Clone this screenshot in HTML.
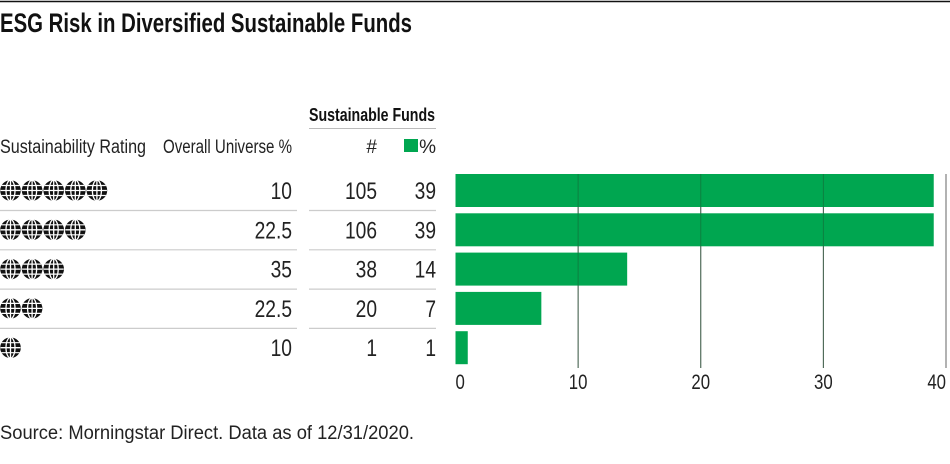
<!DOCTYPE html>
<html><head><meta charset="utf-8"><style>
html,body{margin:0;padding:0;background:#fff;}
svg{display:block;font-family:"Liberation Sans Narrow","Liberation Sans",sans-serif;}
</style></head><body>
<svg id="chart" width="950" height="464" viewBox="0 0 950 464" xmlns="http://www.w3.org/2000/svg">
<defs>
<g id="globe">
<circle cx="0" cy="0" r="10.3" fill="#111"/>
<ellipse cx="0" cy="0" rx="4.5" ry="10.3" fill="none" stroke="#fff" stroke-width="1.3"/>
<line x1="0" y1="-10" x2="0" y2="10" stroke="#fff" stroke-width="1.3"/>
<line x1="-10" y1="0" x2="10" y2="0" stroke="#fff" stroke-width="1.3"/>
<line x1="-9" y1="-5" x2="9" y2="-5" stroke="#fff" stroke-width="1.2"/>
<line x1="-9" y1="5" x2="9" y2="5" stroke="#fff" stroke-width="1.2"/>
</g>
</defs>
<line x1="0" y1="1.5" x2="950" y2="1.5" stroke="#111" stroke-width="1.5"/>
<text x="0" y="32" font-size="27" font-weight="bold" fill="#111" textLength="412" lengthAdjust="spacingAndGlyphs">ESG Risk in Diversified Sustainable Funds</text>
<text x="309" y="121" font-size="18" font-weight="bold" fill="#111" textLength="126" lengthAdjust="spacingAndGlyphs">Sustainable Funds</text>
<line x1="309" y1="128.5" x2="436" y2="128.5" stroke="#bbb" stroke-width="1"/>
<text x="0" y="153" font-size="19" fill="#222" textLength="146" lengthAdjust="spacingAndGlyphs">Sustainability Rating</text>
<text x="163" y="153" font-size="19" fill="#222" textLength="129" lengthAdjust="spacingAndGlyphs">Overall Universe %</text>
<text x="377" y="153" font-size="19" fill="#222" text-anchor="end">#</text>
<rect x="404" y="139" width="14" height="13" fill="#00a650"/>
<text x="436" y="153" font-size="19" fill="#222" text-anchor="end">%</text>
<g id="table"></g>
<g id="grid"></g>
<g id="bars"></g>
<g id="ticks"></g>
<text x="0" y="439" font-size="19" fill="#222" textLength="414" lengthAdjust="spacingAndGlyphs">Source: Morningstar Direct. Data as of 12/31/2020.</text>
</svg>
<script>
const globes = [5, 4, 3, 2, 1];
const universePct = ["10", "22.5", "35", "22.5", "10"];
const fundCounts = [105, 106, 38, 20, 1];
const fundPct = [39, 39, 14, 7, 1];
const tickValues = [0, 10, 20, 30, 40];

const NS = "http://www.w3.org/2000/svg";
const x0 = 455.5, xScale = (946 - 455.5) / 40;
const xPos = v => x0 + v * xScale;
const rowTop = i => 174 + i * 39.3;
const barH = 33;
const SX = 0.8;

function mk(tag, attrs, parent) {
  const e = document.createElementNS(NS, tag);
  for (const k in attrs) e.setAttribute(k, attrs[k]);
  parent.appendChild(e);
  return e;
}
function ntext(parent, x, y, size, anchor, str) {
  const g = mk('g', {transform: 'scale(' + SX + ',1)'}, parent);
  const t = mk('text', {x: x / SX, y: y, 'font-size': size, fill: '#222', 'text-anchor': anchor}, g);
  t.textContent = str;
  return t;
}
const table = document.getElementById('table');
const grid = document.getElementById('grid');
const bars = document.getElementById('bars');
const ticks = document.getElementById('ticks');

globes.forEach((n, i) => {
  const cy = rowTop(i) + barH / 2;
  const g = mk('g', {}, table);
  
  
  for (let k = 0; k < n; k++) {
    mk('use', {href: '#globe', x: 10.5 + k * 21.6, y: cy}, g);
  }
  const t1 = ntext(table, 292, cy + 8.5, 24, 'end', universePct[i]);
  
  
  const t2 = ntext(table, 377, cy + 8.5, 24, 'end', String(fundCounts[i]));
  
  
  const t3 = ntext(table, 436, cy + 8.5, 24, 'end', String(fundPct[i]));
  
  
  if (i < globes.length - 1) {
    const ly = rowTop(i) + barH + 3.5;
    const l1 = mk('line', {x1: 0, x2: 297, y1: ly, y2: ly, stroke: '#ccc', 'stroke-width': 1.2}, table);
    
    
    const l2 = mk('line', {x1: 309, x2: 436, y1: ly, y2: ly, stroke: '#ccc', 'stroke-width': 1.2}, table);
    
    
  }
  const r = mk('rect', {x: x0, y: rowTop(i), width: xPos(fundPct[i]) - x0, height: barH, fill: '#00a650'}, bars);
  
  
});

tickValues.forEach(v => {
  const x = xPos(v);
  if (v > 0) {
    const gl = mk('line', {x1: x, x2: x, y1: 174, y2: 368, stroke: '#666', 'stroke-width': 1}, grid);
    
    
    if (v < 40) {
      const ov = mk('line', {x1: x, x2: x, y1: 174, y2: 368, stroke: '#1a5a30', 'stroke-width': 1, 'stroke-opacity': 0.5}, ticks);
      
      
    }
  }
  const t = ntext(ticks, v === 0 ? x0 : x, 389, 21, v === 0 ? 'start' : (v === 40 ? 'end' : 'middle'), String(v));
  
  
});
</script>
</body></html>
